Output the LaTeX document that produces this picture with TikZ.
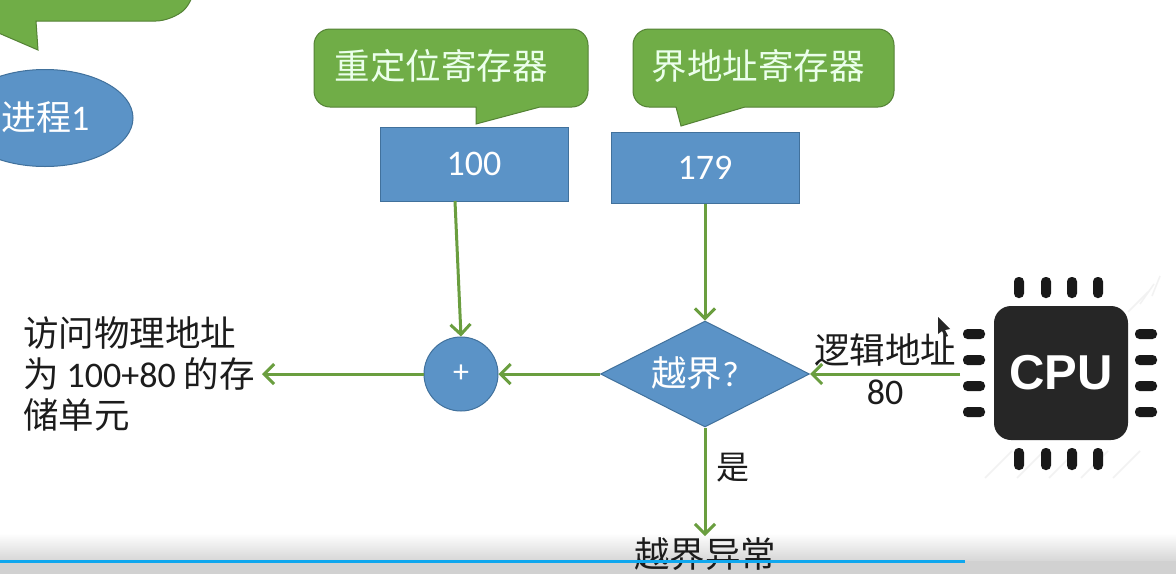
\documentclass[tikz,border=0pt]{standalone}
\usepackage{fontspec}
\usepackage{xcolor}
\setmainfont{Carlito}
\newfontfamily\cjk{Noto Sans CJK SC}
\newfontfamily\chipfont{Liberation Sans}
\usetikzlibrary{arrows.meta,positioning,shapes.geometric}
\definecolor{flowgreen}{HTML}{6A9E3F}
\definecolor{bubblegreen}{HTML}{70AD47}
\definecolor{bubbleedge}{HTML}{548235}
\definecolor{boxblue}{HTML}{5B93C7}
\definecolor{boxedge}{HTML}{41719C}
\definecolor{inkgray}{HTML}{1C1C1C}
\definecolor{chipblack}{HTML}{262626}
\definecolor{barblue}{HTML}{0FA7EE}

\begin{document}
\begin{tikzpicture}[x=1pt, y=-1pt,
  >={Straight Barb[length=10pt,width=20pt]},
  flow/.style={draw=flowgreen, line width=3pt, ->},
  bubble/.style={fill=bubblegreen, draw=bubbleedge, line width=1pt},
  bubbletext/.style={text=white!92!green, font=\fontsize{35.5}{38}\selectfont\cjk},
  bluebox/.style={draw=boxedge, line width=1pt, fill=boxblue, text=white,
    minimum width=188pt, inner sep=0pt, font=\fontsize{36}{38}\selectfont},
  cntext/.style={text=inkgray, font=\fontsize{35.5}{41}\selectfont\cjk},
  pin/.style={fill=black!90, rounded corners=4.5pt},
  wmark/.style={draw=black!5, line width=1.5pt}
]
\clip (0,0) rectangle (1176,574);
\fill[white] (0,0) rectangle (1176,574);

% Bottom bar of the player
\shade[top color=white, bottom color=black!16] (0,533) rectangle (1176,561);
\fill[black!18] (0,561) rectangle (1176,574);

% Speech bubbles
\draw[bubble, rounded corners=16pt] (-40,-40) -- (195,-40) -- (195,0) -- (172,21)
  [sharp corners] -- (36,21) -- (38,50) -- (-20,25) -- cycle;
\draw[bubble] (476,107) [rounded corners=16pt] -- (314,107) -- (314,29) -- (588,29) -- (588,107)
  [sharp corners] -- (540,107) -- (476,124) -- cycle;
\draw[bubble] (676,107) [rounded corners=16pt] -- (633,107) -- (633,29) -- (894,29) -- (894,107)
  [sharp corners] -- (745,107) -- (681,126) -- cycle;
\node[bubbletext] (relocname) at (441,66) {重定位寄存器};
\node[bubbletext] (limitname) at (758,66) {界地址寄存器};

% Process
\node[ellipse, fill=boxblue, draw=boxedge, line width=1pt, minimum width=176pt, minimum height=97pt,
  inner sep=0pt] (proc) at (45,118) {};
\node[text=white, font=\fontsize{36}{38}\selectfont, anchor=west, inner sep=0pt] (proclabel) at (1,117) {{\cjk\fontsize{35}{38}\selectfont 进程}1};

% Registers
\node[bluebox, minimum height=74pt] (relocreg) at (474,164) {100};
\node[bluebox, minimum height=71pt] (limitreg) at (705,167.5) {179};

% Adder and limit test
\node[circle, fill=boxblue, draw=boxedge, line width=1pt, minimum size=74pt, inner sep=0pt,
  text=white, font=\fontsize{32}{34}\selectfont] (adder) at (461,374) {+};
\node[diamond, fill=boxblue, draw=boxedge, line width=1pt, aspect=2, minimum width=209pt,
  minimum height=106pt, inner sep=0pt, text=white, font=\fontsize{35.5}{38}\selectfont] (limittest) at (705,374) {};
\node[text=white, font=\fontsize{35.5}{38}\selectfont, inner sep=0pt] (testlabel) at (695,373) {{\cjk 越界}?};

% Chip
\foreach \i in {0,1,2,3,4} {
  \draw[wmark] (985+32*\i,478) -- (1012+32*\i,451);
}
\foreach \i in {0,1,2} {
  \draw[wmark] (1128+12*\i,312-8*\i) -- (1148+6*\i,292-8*\i);
}
\node[fill=chipblack, rounded corners=17pt, minimum size=134pt, inner sep=0pt, text=white,
  font=\fontsize{49}{52}\selectfont\chipfont\bfseries] (chip) at (1061,373) {CPU};
\foreach \x in {1019,1046,1072,1098} {
  \fill[pin] (\x-5,277) rectangle (\x+5,298);
  \fill[pin] (\x-5,448) rectangle (\x+5,470);
}
\foreach \y in {334,360,386,412} {
  \fill[pin] (963,\y-5) rectangle (985,\y+5);
  \fill[pin] (1135,\y-5) rectangle (1157,\y+5);
}

% Labels
\node[cntext, align=left, anchor=east, inner sep=0pt, inner xsep=7pt] (accesstext) at (262,374)
  {访问物理地址\\为 {\rmfamily\fontsize{36}{41}\selectfont 100+80} 的存\\储单元};
\node[cntext, anchor=north, inner sep=1pt] (faulttext) at (705,536) {越界异常};
\node[cntext] (logicname) at (885,350) {逻辑地址};
\node[text=inkgray, font=\fontsize{36}{38}\selectfont] (logicval) at (885,392) {80};
\node[cntext, font=\fontsize{33}{36}\selectfont\cjk] (yeslabel) at (733,468) {是};

% Connectors
\coordinate (relocout) at (455,201);
\coordinate (chipin) at (960,374);
\draw[flow] (relocout) -- (adder.north);
\draw[flow] (limitreg) -- (limittest.north);
\draw[flow] (chipin) -- (limittest.east);
\draw[flow] (limittest.west) -- (adder.east);
\draw[flow] (adder.west) -- (accesstext.east);
\draw[flow] (limittest.south) -- (faulttext.north);

% Pointer
\fill[black!85] (938,317) -- (950,329) -- (945,330) -- (948,336) -- (945,337) -- (942,331) -- (938,334) -- cycle;

% Progress line
\draw[barblue, line width=3pt] (0,561) -- (965,561);
\end{tikzpicture}
\end{document}
